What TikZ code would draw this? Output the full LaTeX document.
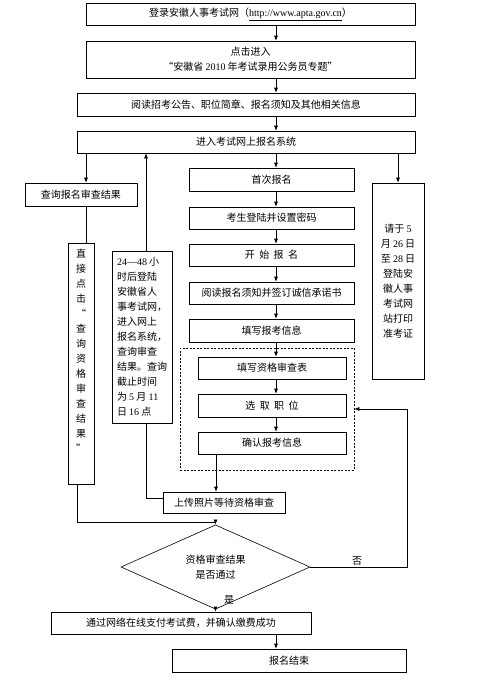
\documentclass[tikz,border=0pt]{standalone}
\usepackage{fontspec}
\setmainfont{Noto Sans CJK SC}
\newfontfamily\latfont{Liberation Serif}
\newcommand{\lat}[1]{{\latfont #1}}
\usetikzlibrary{shapes.geometric,arrows.meta}

\begin{document}
\begin{tikzpicture}[x=1pt,y=-1pt,line width=.6pt,font=\fontsize{10}{15}\selectfont,
  box/.style={draw,inner sep=0pt,align=center},
  arr/.style={-{Latex[length=5pt,width=4pt]}}]
\useasboundingbox (0,0) rectangle (500,689);
% main column
\node[box,minimum width=329pt,minimum height=22pt] (b1) at (250.5,14) {登录安徽人事考试网（\underline{\lat{http://www.apta.gov.cn}}）};
\node[box,minimum width=329pt,minimum height=37pt] (b2) at (250.5,59.5) {点击进入\\“安徽省 \lat{2010} 年考试录用公务员专题”};
\node[box,minimum width=338pt,minimum height=23pt] (b3) at (246,104.5) {阅读招考公告、职位简章、报名须知及其他相关信息};
\node[box,minimum width=338pt,minimum height=22pt] (b4) at (246,142) {进入考试网上报名系统};
\node[box,minimum width=165pt,minimum height=23pt] (s1) at (271.5,179.5) {首次报名};
\node[box,minimum width=165pt,minimum height=22pt] (s2) at (271.5,218) {考生登陆并设置密码};
\node[box,minimum width=165pt,minimum height=22pt] (s3) at (271.5,255) {开\ \ 始\ \ 报\ \ 名};
\node[box,minimum width=165pt,minimum height=22pt] (s4) at (271.5,293) {阅读报名须知并签订诚信承诺书};
\node[box,minimum width=165pt,minimum height=23pt] (s5) at (271.5,330.5) {填写报考信息};
\node[draw,dash pattern=on 2pt off 1.5pt,minimum width=174pt,minimum height=122pt] (grp) at (267,409) {};
\node[box,minimum width=148pt,minimum height=22pt] (t1) at (272,368) {填写资格审查表};
\node[box,minimum width=148pt,minimum height=23pt] (t2) at (272,405.5) {选\ \ 取\ \ 职\ \ 位};
\node[box,minimum width=148pt,minimum height=22pt] (t3) at (272,443) {确认报考信息};
\node[box,minimum width=122pt,minimum height=21pt] (upload) at (224,502.5) {上传照片等待资格审查};
\node[box,shape=diamond,minimum width=189pt,minimum height=60pt] (dia) at (215.5,567) {资格审查结果\\是否通过};
\node[box,minimum width=260pt,minimum height=22pt] (pay) at (181,623) {通过网络在线支付考试费，并确认缴费成功};
\node[box,minimum width=234pt,minimum height=23pt] (end) at (289,660.5) {报名结束};
% side boxes
\node[box,minimum width=112pt,minimum height=23pt] (query) at (81,194.5) {查询报名审查结果};
\node[box,minimum width=26pt,minimum height=241pt] (direct) at (81,363.5) {直\\接\\点\\击\\“\\查\\询\\资\\格\\审\\查\\结\\果\\”\\[10pt]\mbox{}};
\node[box,minimum width=60pt,minimum height=172pt,align=left] (tips) at (142,337) {\lat{24—48} 小\\时后登陆\\安徽省人\\事考试网，\\进入网上\\报名系统，\\查询审查\\结果。查询\\截止时间\\为 \lat{5} 月 \lat{11}\\日 \lat{16} 点};
\node[box,minimum width=52pt,minimum height=196pt] (notice) at (398,281) {请于 \lat{5}\\月 \lat{26} 日\\至 \lat{28} 日\\登陆安\\徽人事\\考试网\\站打印\\准考证};
% connectors
\coordinate (ax) at (276,0);
\coordinate (lx) at (86,0);
\coordinate (tx) at (146,0);
\coordinate (zx) at (77,0);
\coordinate (cx) at (216,0);
\foreach \a/\b in {b1/b2,b2/b3,b3/b4,b4/s1,s1/s2,s2/s3,s3/s4,s4/s5,s5/t1,t1/t2,t2/t3,pay/end}
  \draw[arr] (\a.south -| ax) -- (\b.north -| ax);
\draw[arr] (b4.south -| lx) -- (query.north -| lx);
\draw (query.south -| lx) -- (direct.north -| lx);
\draw[arr] (b4.south -| notice) -- (notice.north);
\draw[arr] (tips.north -| tx) -- (b4.south -| tx);
\draw (tips.south -| tx) |- ([yshift=4.5pt]upload.west);
\draw[arr] (t3.south -| cx) -- (upload.north -| cx);
\draw[arr] (direct.south -| zx) -- ++(0,38) -| (dia.north);
\draw[arr] (dia.east) -- ++(97,0) |- (grp.east);
\draw[arr] (dia.south) -- (pay.north -| dia.south);
\node at (357,561) {否};
\node at (229,600) {是};
\end{tikzpicture}
\end{document}
